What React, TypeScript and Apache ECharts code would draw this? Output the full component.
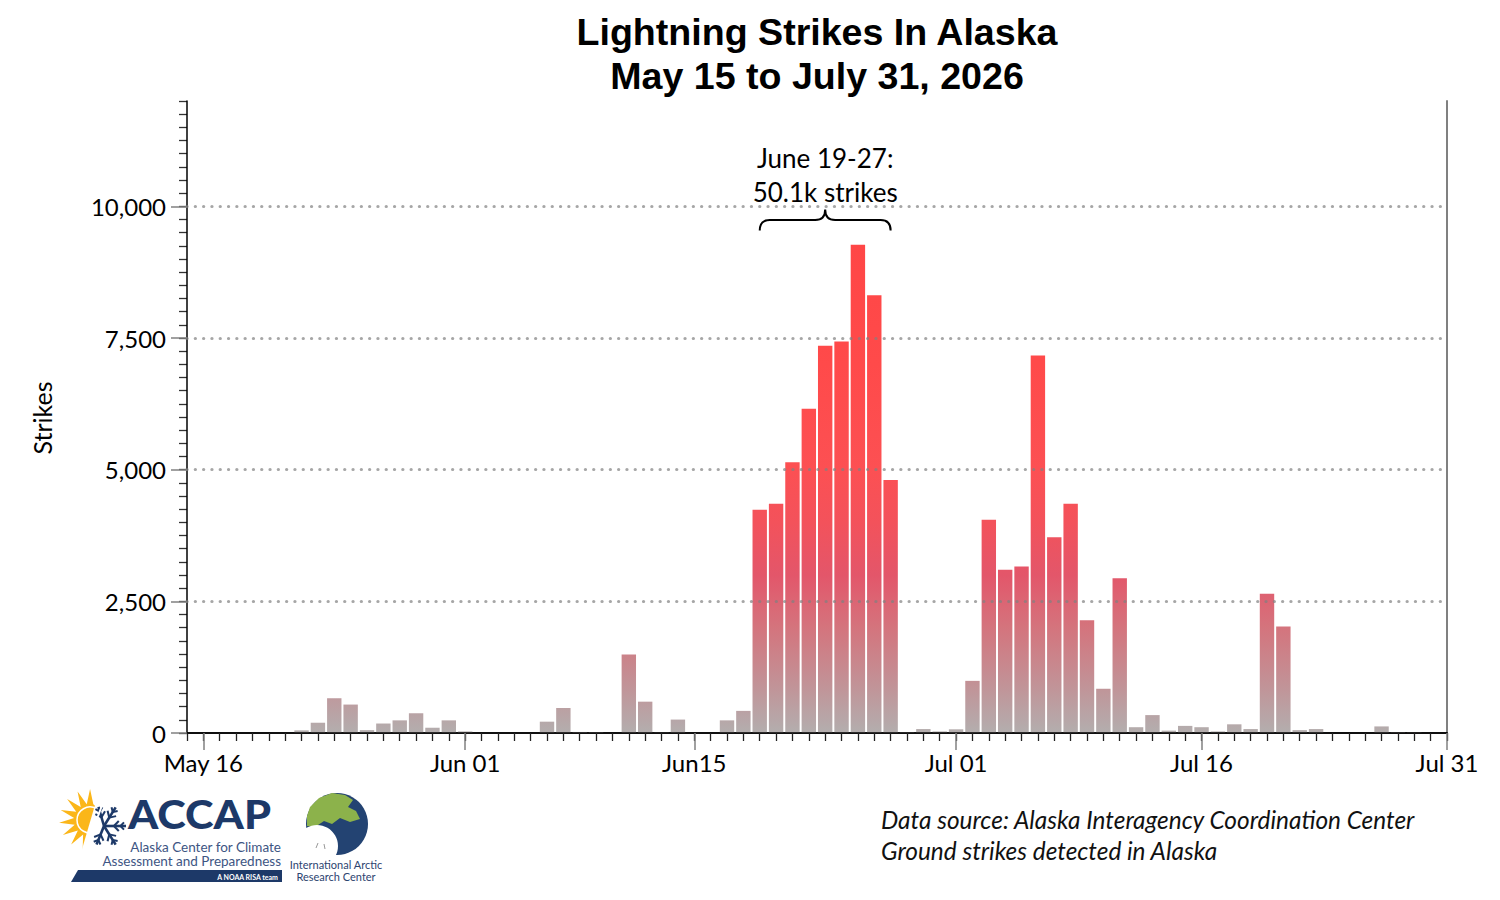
import React, { useEffect, useRef } from "react";
import * as echarts from "echarts";

// ---------- DATA ----------
const startDayUTC = Date.UTC(2026, 4, 15); // May 15, 2026
const dayCount = 78; // May 15 .. Jul 31
const categories: string[] = [];
for (let i = 0; i < dayCount; i++) {
  categories.push(new Date(startDayUTC + i * 86400000).toISOString().slice(0, 10));
}

// daily ground strikes, May 15 .. Jul 31
const strikes: number[] = [
  0, 0, 0, 0, 0, 0, 0, 50, 195, 660, // May 15-24
  540, 55, 180, 240, 375, 100, 240, 30, 0, 0, // May 25 - Jun 3
  0, 0, 215, 475, 20, 15, 0, 1490, 595, 10, // Jun 4-13
  255, 0, 0, 240, 420, 4240, 4355, 5140, 6155, 7355, // Jun 14-23
  7435, 9270, 8310, 4805, 15, 75, 30, 70, 990, 4050, // Jun 24 - Jul 3
  3100, 3160, 7170, 3715, 4355, 2140, 840, 2940, 110, 340, // Jul 4-13
  45, 135, 110, 30, 165, 75, 2645, 2020, 55, 75, // Jul 14-23
  0, 0, 0, 125, 15, 10, 0, 0, // Jul 24-31
];

const xTickIndex = [1, 17, 31, 47, 62, 77];
const xTickLabels = ["May 16", "Jun 01", "Jun15", "Jul 01", "Jul 16", "Jul 31"];
const yTicks = [0, 2500, 5000, 7500, 10000];
const yMax = 12000;
const yMinorStep = 250;

const titleLines = ["Lightning Strikes In Alaska", "May 15 to July 31, 2026"];
const yAxisName = "Strikes";
const highlightRange = [35, 43]; // June 19 .. June 27
const highlightBraceValue = 9540;
const annotationLines = ["June 19-27:", "50.1k strikes"];
const sourceLines = [
  "Data source: Alaska Interagency Coordination Center",
  "Ground strikes detected in Alaska",
];

// value -> colour of the bar gradient
const colorStops: [number, string][] = [
  [0, "#b3aeae"],
  [1000, "#c39095"],
  [2000, "#d4747d"],
  [3000, "#e3566a"],
  [4000, "#f3525b"],
  [5000, "#fc5053"],
  [7000, "#ff4a4a"],
  [10000, "#ff4545"],
];

// ---------- helpers ----------
function hexToRgb(h: string) {
  const n = parseInt(h.slice(1), 16);
  return [(n >> 16) & 255, (n >> 8) & 255, n & 255];
}
function mix(a: string, b: string, t: number) {
  const A = hexToRgb(a);
  const B = hexToRgb(b);
  const c = A.map((v, i) => Math.round(v + (B[i] - v) * t));
  return `rgb(${c[0]},${c[1]},${c[2]})`;
}
function colorAt(v: number) {
  if (v <= colorStops[0][0]) return colorStops[0][1];
  for (let k = 1; k < colorStops.length; k++) {
    const [s1, c1] = colorStops[k];
    const [s0, c0] = colorStops[k - 1];
    if (v <= s1) return mix(c0, c1, (v - s0) / (s1 - s0));
  }
  return colorStops[colorStops.length - 1][1];
}
function barColor(v: number) {
  if (v <= 0) return colorStops[0][1];
  const stops: { offset: number; color: string }[] = [{ offset: 0, color: colorAt(v) }];
  for (let k = colorStops.length - 1; k >= 0; k--) {
    const [s, c] = colorStops[k];
    if (s < v) stops.push({ offset: 1 - s / v, color: c });
  }
  return new echarts.graphic.LinearGradient(0, 0, 0, 1, stops);
}

const FONT = "Lato";
const NAVY = "#1d3968";

function logoElements(): any[] {
  const els: any[] = [];
  // --- ACCAP sun (left of the diagonal cut) ---
  const scx = 90, scy = 820;
  const rays: number[][] = [];
  const a0 = 78, a1 = 292, nSpikes = 9;
  for (let k = 0; k <= nSpikes * 2; k++) {
    const ang = ((a0 + ((a1 - a0) * k) / (nSpikes * 2)) * Math.PI) / 180;
    const r = k % 2 === 1 ? 31 : 16;
    rays.push([scx + r * Math.cos(ang), scy - r * Math.sin(ang)]);
  }
  rays.push([scx + 6, scy + 12]);
  rays.push([scx + 10, scy - 10]);
  els.push({ type: "polygon", shape: { points: rays }, style: { fill: "#fbb619" } });
  els.push({ type: "circle", shape: { cx: scx, cy: scy, r: 13 }, style: { fill: "#fbb619", stroke: "#fff", lineWidth: 1.5 } });
  // white diagonal cut
  els.push({ type: "polygon", shape: { points: [[100, 788], [130, 788], [130, 860], [80, 860], [80, 856]] }, style: { fill: "#fff" } });
  // snowflake
  const fx = 104, fy = 826;
  const arms = [0, 58, -58, 106, -112];
  arms.forEach((deg) => {
    const a = (deg * Math.PI) / 180;
    const len = Math.abs(deg) > 90 ? 20 : 22;
    const ex = fx + len * Math.cos(a), ey = fy - len * Math.sin(a);
    els.push({ type: "line", shape: { x1: fx, y1: fy, x2: ex, y2: ey }, style: { stroke: NAVY, lineWidth: 2.6 } });
    [0.45, 0.75].forEach((f, j) => {
      const bx = fx + len * f * Math.cos(a), by = fy - len * f * Math.sin(a);
      const bl = j === 0 ? 7 : 5;
      [-1, 1].forEach((sgn) => {
        const ba = a + sgn * 0.8;
        els.push({ type: "line", shape: { x1: bx, y1: by, x2: bx + bl * Math.cos(ba), y2: by - bl * Math.sin(ba) }, style: { stroke: NAVY, lineWidth: 2 } });
      });
    });
  });
  els.push({ type: "line", shape: { x1: 108, y1: 790, x2: 83, y2: 855 }, style: { stroke: "#fff", lineWidth: 2 } });
  // ACCAP word mark
  els.push({ type: "text", x: 128, y: 814, scaleX: 1.08, style: { text: "ACCAP", fontFamily: FONT, fontWeight: 900, fontSize: 40, fill: NAVY, align: "left", verticalAlign: "middle", textAlign: "left", textVerticalAlign: "middle" } });
  els.push({ type: "text", x: 281, y: 847, style: { text: "Alaska Center for Climate", fontFamily: FONT, fontSize: 13.5, fill: "#3d5583", align: "right", verticalAlign: "middle", textAlign: "right", textVerticalAlign: "middle" } });
  els.push({ type: "text", x: 281, y: 861, style: { text: "Assessment and Preparedness", fontFamily: FONT, fontSize: 13.5, fill: "#3d5583", align: "right", verticalAlign: "middle", textAlign: "right", textVerticalAlign: "middle" } });
  els.push({ type: "polygon", shape: { points: [[78, 870], [282, 870], [282, 882], [71, 882]] }, style: { fill: NAVY } });
  els.push({ type: "text", x: 278, y: 876.5, style: { text: "A NOAA RISA team", fontFamily: FONT, fontWeight: 700, fontSize: 7, fill: "#fff", align: "right", verticalAlign: "middle", textAlign: "right", textVerticalAlign: "middle" } });
  // --- IARC globe ---
  const gx = 337, gy = 824;
  els.push({ type: "circle", shape: { cx: gx, cy: gy, r: 31 }, style: { fill: "#234372" } });
  const green = [[-30, -8], [-27, -17], [-18, -26], [-5, -31], [8, -29], [16, -24], [11, -17], [19, -13], [23, -5], [13, -2], [3, -6], [-5, 0], [-13, -3], [-22, 3], [-30, 2]];
  els.push({ type: "polygon", shape: { points: green.map(([dx, dy]) => [gx + dx, gy + dy]) }, style: { fill: "#8cb24b" } });
  els.push({ type: "circle", shape: { cx: gx - 20, cy: gy + 22, r: 21 }, style: { fill: "#fff" } });
  els.push({ type: "line", shape: { x1: gx - 19, y1: gy + 19, x2: gx - 21, y2: gy + 24 }, style: { stroke: "#999", lineWidth: 1 } });
  els.push({ type: "line", shape: { x1: gx - 13, y1: gy + 20, x2: gx - 12, y2: gy + 25 }, style: { stroke: "#999", lineWidth: 1 } });
  els.push({ type: "text", x: 336, y: 864, style: { text: "International Arctic", fontFamily: FONT, fontSize: 11, fill: "#2d4470", align: "center", verticalAlign: "middle", textAlign: "center", textVerticalAlign: "middle" } });
  els.push({ type: "text", x: 336, y: 876, style: { text: "Research Center", fontFamily: FONT, fontSize: 11, fill: "#2d4470", align: "center", verticalAlign: "middle", textAlign: "center", textVerticalAlign: "middle" } });
  return els;
}

export default function App() {
  const ref = useRef<HTMLDivElement>(null);

  useEffect(() => {
    if (!ref.current) return;
    const chart = echarts.init(ref.current, null, { renderer: "svg" });

    const isMajor = (idx: number) => xTickIndex.indexOf(idx) >= 0;

    chart.setOption({
      animation: false,
      textStyle: { fontFamily: FONT },
      grid: { left: 187, right: 53, top: 101, bottom: 167, containLabel: false },
      xAxis: [
        {
          type: "category",
          data: categories,
          boundaryGap: false,
          position: "bottom",
          axisLine: { show: true, lineStyle: { color: "#000", width: 1.5 } },
          axisTick: { show: true, interval: 0, length: 8, lineStyle: { color: "#222", width: 1.3 } },
          axisLabel: { show: false },
          splitLine: { show: false },
          z: 3,
        },
        {
          type: "category",
          data: categories,
          boundaryGap: false,
          position: "bottom",
          axisLine: { show: false },
          axisTick: { show: true, interval: (idx: number) => isMajor(idx), length: 17, lineStyle: { color: "#808080", width: 1.5 } },
          axisLabel: {
            show: true,
            interval: (idx: number) => isMajor(idx),
            formatter: (_v: string, idx: number) => {
              const k = xTickIndex.indexOf(idx);
              return k >= 0 ? xTickLabels[k] : "";
            },
            margin: 17,
            fontSize: 24,
            color: "#000",
            fontFamily: FONT,
          },
          splitLine: { show: false },
          z: 4,
        },
        {
          type: "category",
          data: categories,
          boundaryGap: false,
          position: "top",
          axisLine: { show: true, lineStyle: { color: "#000", width: 1.5 } },
          axisTick: { show: false },
          axisLabel: { show: false },
          splitLine: { show: false },
        },
      ],
      yAxis: [
        {
          type: "value",
          min: 0,
          max: yMax,
          interval: 2500,
          position: "left",
          axisLine: { show: true, lineStyle: { color: "#000", width: 1.5 } },
          axisTick: { show: true, customValues: yTicks, length: 16, lineStyle: { color: "#808080", width: 1.5 } },
          axisLabel: {
            show: true,
            customValues: yTicks,
            formatter: (v: number) => (yTicks.indexOf(v) >= 0 ? v.toLocaleString("en-US") : ""),
            margin: 21,
            fontSize: 24,
            color: "#000",
            fontFamily: FONT,
          },
          splitLine: { show: false },
          z: 4,
        },
        {
          type: "value",
          min: 0,
          max: yMax,
          interval: yMinorStep,
          position: "left",
          axisLine: { show: false },
          axisTick: { show: true, length: 8, lineStyle: { color: "#333", width: 1.3 } },
          axisLabel: { show: false },
          splitLine: { show: false },
        },
        {
          type: "value",
          min: 0,
          max: yMax,
          position: "right",
          axisLine: { show: true, lineStyle: { color: "#808080", width: 2 } },
          axisTick: { show: false },
          axisLabel: { show: false },
          splitLine: { show: false },
        },
      ],
      series: [
        {
          type: "bar",
          xAxisIndex: 0,
          yAxisIndex: 0,
          barWidth: 14.4,
          data: strikes.map((v) => ({ value: v, itemStyle: { color: barColor(v) } })),
          markLine: {
            silent: true,
            symbol: ["none", "none"],
            label: { show: false },
            lineStyle: { color: "rgba(128,128,128,0.7)", width: 3.2, type: [0.1, 8.2], cap: "round" },
            emphasis: { disabled: true },
            data: yTicks.filter((v) => v > 0).map((v) => ({ yAxis: v })),
          },
        },
      ],
    });

    // annotation brace over the highlighted days
    const pA = chart.convertToPixel({ seriesIndex: 0 }, [highlightRange[0], highlightBraceValue]) as number[];
    const pB = chart.convertToPixel({ seriesIndex: 0 }, [highlightRange[1], highlightBraceValue]) as number[];
    const x0 = pA[0], x1 = pB[0], yb = pA[1];
    const xm = (x0 + x1) / 2, yh = yb - 10.5, yt = yb - 21;
    const d = `M${x0},${yb} Q${x0},${yh} ${x0 + 10},${yh} L${xm - 10},${yh} Q${xm},${yh} ${xm},${yt} Q${xm},${yh} ${xm + 10},${yh} L${x1 - 10},${yh} Q${x1},${yh} ${x1},${yb}`;
    echarts.graphic.registerShape("annotBrace", echarts.graphic.extendPath(d, {}) as any);

    const txt = (x: number, y: number, text: string, extra: any) => ({
      type: "text",
      x,
      y,
      style: Object.assign(
        { text, fontFamily: FONT, fill: "#000", align: "center", verticalAlign: "middle", textAlign: "center", textVerticalAlign: "middle" },
        extra
      ),
    });

    chart.setOption({
      graphic: [
        txt(817, 32, titleLines[0], { fontFamily: "Liberation Sans", fontWeight: "bold", fontSize: 37.6 }),
        txt(817, 76, titleLines[1], { fontFamily: "Liberation Sans", fontWeight: "bold", fontSize: 37.6 }),
        Object.assign(txt(42, 418, yAxisName, { fontSize: 25 }), { rotation: Math.PI / 2 }),
        txt(xm, yb - 73, annotationLines[0], { fontSize: 26 }),
        txt(xm, yb - 39, annotationLines[1], { fontSize: 26 }),
        { type: "annotBrace", style: { stroke: "#000", lineWidth: 2, fill: "none" } },
        txt(881, 819, sourceLines[0], { fontSize: 24.4, fontStyle: "italic", align: "left", textAlign: "left", fill: "#111" }),
        txt(881, 850, sourceLines[1], { fontSize: 24.4, fontStyle: "italic", align: "left", textAlign: "left", fill: "#111" }),
        ...logoElements(),
      ],
    });

    return () => chart.dispose();
  }, []);

  return (
    <div
      ref={ref}
      style={{ position: "absolute", left: 0, top: 0, width: 1500, height: 900, background: "#fff" }}
    />
  );
}
